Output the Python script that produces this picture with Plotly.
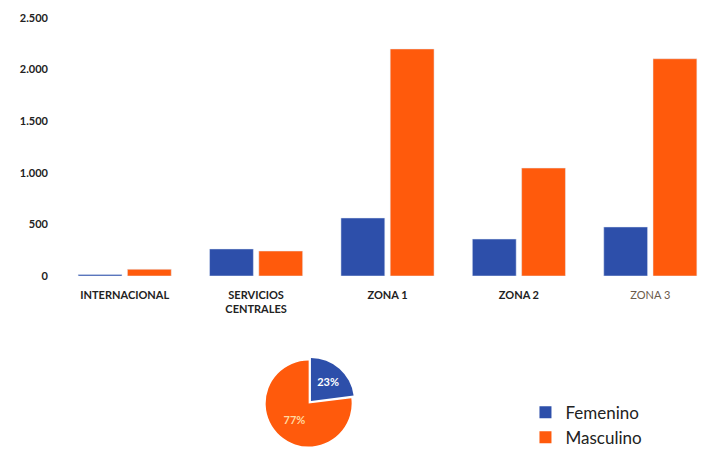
import plotly.graph_objects as go

categories = ["INTERNACIONAL", "SERVICIOS<br>CENTRALES", "ZONA 1", "ZONA 2",
              "<span style='color:#6b5a4a;font-weight:normal'>ZONA 3</span>"]
femenino = [15, 262, 562, 358, 475]
masculino = [65, 242, 2200, 1046, 2105]
pie_labels = ["Femenino", "Masculino"]
pie_values = [23, 77]
y_ticks = [0, 500, 1000, 1500, 2000, 2500]

BLUE = "#2D4FAA"
ORANGE = "#FF5A0C"

fig = go.Figure()
fig.add_trace(go.Bar(x=categories, y=femenino, name="Femenino",
                     marker_color=BLUE, showlegend=False))
fig.add_trace(go.Bar(x=categories, y=masculino, name="Masculino",
                     marker_color=ORANGE, showlegend=False))
fig.add_trace(go.Pie(labels=pie_labels, values=pie_values, sort=False,
                     direction="clockwise", rotation=0, pull=[0.08, 0],
                     marker=dict(colors=[BLUE, ORANGE]),
                     textinfo="percent", textposition="inside",
                     insidetextfont=dict(color=["white", "#ffd9a0"], size=11,
                                         family="Lato", weight="bold"),
                     domain=dict(x=[0.24, 0.52], y=[0.0, 0.215]),
                     showlegend=True))

fig.update_layout(
    width=716, height=450,
    margin=dict(l=59, r=0, t=18, b=0, autoexpand=False),
    paper_bgcolor="white", plot_bgcolor="white",
    separators=",.",
    barmode="group", bargap=0.25, bargroupgap=0.11,
    font=dict(family="Lato", size=11, color="#222"),
    xaxis=dict(showgrid=False, showline=False, zeroline=False, ticks="",
               automargin=False, ticklabelstandoff=11,
               tickfont=dict(size=11, color="#222", weight="bold"), anchor="y"),
    yaxis=dict(domain=[0.4028, 1.0], range=[0, 2500], tickvals=y_ticks,
               tickformat=",d", showgrid=False, showline=False, zeroline=False,
               ticks="", ticklabelstandoff=10, automargin=False,
               tickfont=dict(size=11, color="#222", weight="bold")),
    legend=dict(x=0.71, y=0.128, xanchor="left", yanchor="top",
                font=dict(size=17, color="#222", family="Lato"),
                itemsizing="constant"),
)

fig.write_html("out.html", config={"displayModeBar": False},
               post_script="document.body.style.margin='0';document.body.style.overflow='hidden';")
